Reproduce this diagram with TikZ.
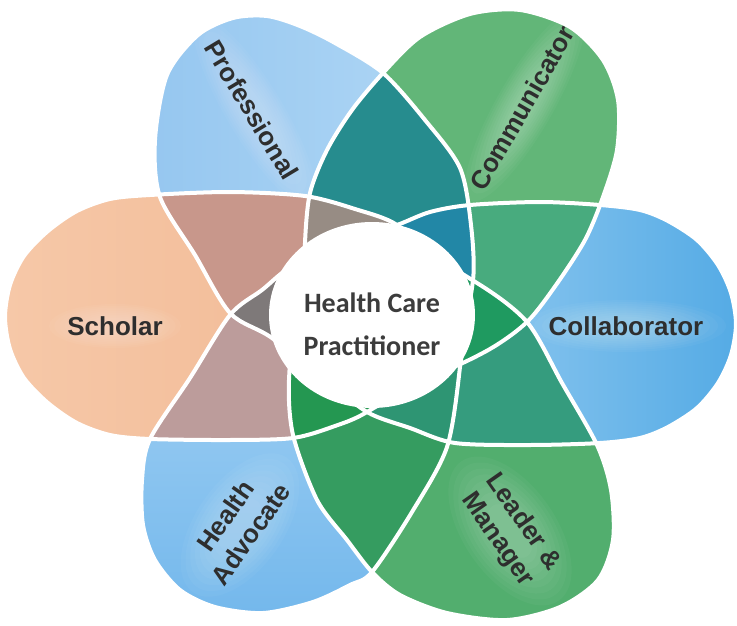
\documentclass[tikz,border=0pt]{standalone}
\usepackage{fontspec}
\setmainfont{Liberation Sans}
\newfontfamily\centerfont{Carlito}
\definecolor{labelgray}{HTML}{2E2E2E}
\definecolor{centergray}{HTML}{3C3C3C}
\definecolor{colSa}{HTML}{F6C8A8}
\definecolor{colSb}{HTML}{F0B690}
\definecolor{colPa}{HTML}{96C7F0}
\definecolor{colPb}{HTML}{B2D8F5}
\definecolor{colCm}{HTML}{62B678}
\definecolor{colCoa}{HTML}{B0D9F6}
\definecolor{colCob}{HTML}{55ABE5}
\definecolor{colL}{HTML}{52AE6E}
\definecolor{colHAa}{HTML}{ACD6F5}
\definecolor{colHAb}{HTML}{74B8EC}
\definecolor{cPCm}{HTML}{268C8E}
\definecolor{cPS}{HTML}{C8978B}
\definecolor{cSHA}{HTML}{BC9C9B}
\definecolor{cHAL}{HTML}{359C60}
\definecolor{cLCo}{HTML}{359C7E}
\definecolor{cCoCm}{HTML}{48AB7E}
\definecolor{tSPCm}{HTML}{978C84}
\definecolor{tPCmCo}{HTML}{2287A6}
\definecolor{tCmCoL}{HTML}{1F9A60}
\definecolor{tCoLHA}{HTML}{2E9573}
\definecolor{tLHAS}{HTML}{249751}
\definecolor{tHASP}{HTML}{7E7979}
\tikzset{
  petalline/.style={draw=white, line width=4pt},
  glowfill/.style={fill=white, opacity=0.035},
  lbl/.style={font=\bfseries\fontsize{26}{31}\selectfont, text=labelgray, align=center, inner sep=0pt},
  centerlbl/.style={font=\centerfont\bfseries\fontsize{28}{43}\selectfont, text=centergray, align=center, inner sep=0pt}
}
\newcommand\softglow[5]{%
  \begin{scope}[shift={(#1,#2)}, rotate=#3]
    \foreach \k in {1.0,0.92,0.84,0.76,0.68,0.6,0.52,0.44,0.36}
      \fill[glowfill] (0,0) ellipse [x radius=#4*\k, y radius=#5*\k];
  \end{scope}}
\begin{document}
\begin{tikzpicture}[x=1pt,y=-1pt]
\useasboundingbox (0,0) rectangle (737,626);
\fill[white] (0,0) rectangle (737,626);
\def\PS{plot[smooth cycle] coordinates {(5,317) (10,349) (24,378) (48,403) (77,423) (110,435) (150,439) (230,440) (293,438) (335,426) (367,412) (425,372) (446,318) (432,262) (397,225) (355,209) (305,196) (230,192) (150,195) (110,199) (77,211) (48,231) (24,256) (10,285)}}
\def\PCo{plot[smooth cycle] coordinates {(397,225) (430,212) (470,205) (540,202) (600,205) (640,210) (668,221) (697,240) (718,265) (731,293) (736,324) (731,355) (718,383) (697,408) (668,427) (640,438) (600,443) (530,445) (455,443) (410,428) (367,412) (330,380) (298,330) (312,278) (355,238)}}
\def\PCm{plot[smooth cycle] coordinates {(383,73) (420,37) (470,14) (520,10) (570,27) (603,60) (618,100) (617,150) (603,197) (585,240) (556,285) (527,322) (490,349) (440,372) (390,378) (335,345) (306,285) (305,243) (310,193) (327,150) (352,110)}}
\def\PP{plot[smooth cycle] coordinates {(160,197) (155,140) (167,75) (198,35) (233,18) (267,16) (300,26) (335,43) (383,73) (425,120) (460,168) (471,225) (473,280) (458,335) (405,390) (335,388) (272,338) (230,313) (195,255)}}
\def\PHA{plot[smooth cycle] coordinates {(150,439) (142,480) (143,525) (155,560) (180,590) (215,607) (263,613) (313,602) (350,585) (372,572) (412,512) (447,447) (460,367) (462,325) (432,275) (355,250) (295,265) (262,290) (230,315) (190,378)}}
\def\PL{plot[smooth cycle] coordinates {(597,445) (611,490) (613,540) (598,580) (560,607) (507,620) (447,613) (400,595) (372,572) (347,540) (317,500) (293,435) (289,380) (298,325) (340,268) (415,253) (477,283) (527,322) (562,383)}}
% base fills
\shade[left color=colSa, right color=colSb] \PS;
\shade[left color=colPa, right color=colPb] \PP;
\fill[colCm] \PCm;
\shade[left color=colCoa, right color=colCob] \PCo;
\fill[colL] \PL;
\shade[top color=colHAa, bottom color=colHAb] \PHA;
% soft glows behind the labels
\begin{scope}\clip \PP; \softglow{255}{112}{-59}{110}{28} \end{scope}
\begin{scope}\clip \PCm; \softglow{525}{105}{60}{110}{28} \end{scope}
\begin{scope}\clip \PCo; \softglow{626}{326}{0}{100}{26} \end{scope}
\begin{scope}\clip \PL; \softglow{510}{531}{-55}{85}{46} \end{scope}
\begin{scope}\clip \PHA; \softglow{240}{525}{55}{82}{44} \end{scope}
\begin{scope}\clip \PS; \softglow{115}{326}{0}{66}{22} \end{scope}
% pair overlaps
\begin{scope}\clip \PP; \fill[cPCm] \PCm; \end{scope}
\begin{scope}\clip \PP; \fill[cPS] \PS; \end{scope}
\begin{scope}\clip \PS; \fill[cSHA] \PHA; \end{scope}
\begin{scope}\clip \PHA; \fill[cHAL] \PL; \end{scope}
\begin{scope}\clip \PL; \fill[cLCo] \PCo; \end{scope}
\begin{scope}\clip \PCo; \fill[cCoCm] \PCm; \end{scope}
% triple overlaps
\begin{scope}\clip \PS; \clip \PP; \fill[tSPCm] \PCm; \end{scope}
\begin{scope}\clip \PP; \clip \PCm; \fill[tPCmCo] \PCo; \end{scope}
\begin{scope}\clip \PCm; \clip \PCo; \fill[tCmCoL] \PL; \end{scope}
\begin{scope}\clip \PCo; \clip \PL; \fill[tCoLHA] \PHA; \end{scope}
\begin{scope}\clip \PL; \clip \PHA; \fill[tLHAS] \PS; \end{scope}
\begin{scope}\clip \PHA; \clip \PS; \fill[tHASP] \PP; \end{scope}
% outlines
\draw[petalline] \PS;
\draw[petalline] \PP;
\draw[petalline] \PCm;
\draw[petalline] \PCo;
\draw[petalline] \PL;
\draw[petalline] \PHA;
% centre
\fill[white] (372,315) ellipse [x radius=103, y radius=93];
\node[centerlbl] (hcp) at (372,324) {Health Care\\Practitioner};
\node[lbl, rotate=-59] (prof) at (252,110) {Professional};
\node[lbl, rotate=60] (comm) at (522,108) {Communicator};
\node[lbl] (coll) at (626,326) {Collaborator};
\node[lbl] (schol) at (115,326) {Scholar};
\node[lbl, rotate=55] (hadv) at (238,525) {Health\\Advocate};
\node[lbl, rotate=-55] (lead) at (510,531) {Leader \&\\Manager};
\end{tikzpicture}
\end{document}
